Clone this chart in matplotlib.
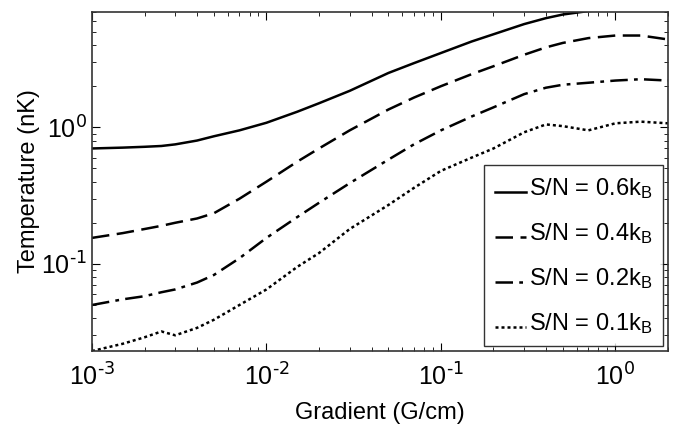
import matplotlib
matplotlib.use("Agg")
import matplotlib.pyplot as plt
from matplotlib.legend_handler import HandlerLine2D
from matplotlib.ticker import FuncFormatter
import numpy as np

plt.rcParams["font.family"] = ["Liberation Sans", "DejaVu Sans"]
plt.rcParams["mathtext.default"] = "regular"

# gradient (G/cm) sample points
grad = [1e-3, 1.5e-3, 2e-3, 2.5e-3, 3e-3, 4e-3, 5e-3, 7e-3, 1e-2, 1.5e-2, 2e-2, 3e-2,
        5e-2, 7e-2, 0.1, 0.15, 0.2, 0.3, 0.4, 0.5, 0.7, 1.0, 1.4, 2.0]

# temperature (nK) for each S/N curve
t_06 = [0.70, 0.71, 0.72, 0.73, 0.75, 0.80, 0.86, 0.95, 1.08, 1.30, 1.50, 1.85,
        2.50, 2.95, 3.50, 4.25, 4.80, 5.70, 6.30, 6.70, 7.10, 7.40, 7.60, 7.70]
t_04 = [0.155, 0.168, 0.18, 0.19, 0.20, 0.215, 0.235, 0.30, 0.40, 0.56, 0.70, 0.95,
        1.35, 1.65, 2.00, 2.45, 2.80, 3.40, 3.85, 4.15, 4.50, 4.70, 4.70, 4.40]
t_02 = [0.050, 0.055, 0.058, 0.062, 0.065, 0.073, 0.083, 0.11, 0.155, 0.22, 0.28, 0.39,
        0.58, 0.75, 0.95, 1.20, 1.40, 1.75, 1.95, 2.05, 2.12, 2.20, 2.25, 2.20]
t_01 = [0.023, 0.026, 0.029, 0.032, 0.030, 0.034, 0.039, 0.050, 0.065, 0.095, 0.12, 0.18,
        0.27, 0.36, 0.48, 0.60, 0.70, 0.92, 1.05, 1.02, 0.95, 1.07, 1.10, 1.07]

labels = ["S/N = 0.6k$_B$", "S/N = 0.4k$_B$", "S/N = 0.2k$_B$", "S/N = 0.1k$_B$"]
styles = ["-", (0, (7, 3)), (0, (7, 2.5, 1.5, 2.5)), (0, (1.2, 1.2))]


class LowHandler(HandlerLine2D):
    # legend sample sits near the text baseline, like in the original
    def create_artists(self, legend, orig_handle, xdescent, ydescent,
                       width, height, fontsize, trans):
        arts = super().create_artists(legend, orig_handle, xdescent, ydescent,
                                      width, height, fontsize, trans)
        for a in arts:
            a.set_ydata([y - 0.32 * height for y in a.get_ydata()])
        return arts


def pow10(v, pos):
    e = int(round(np.log10(v)))
    return r"$10^{\text{%d}}$" % e


fig = plt.figure(figsize=(6.84, 4.25), dpi=100)
ax = fig.add_axes([0.1345, 0.174, 0.842, 0.798])

for t, lab, ls in zip([t_06, t_04, t_02, t_01], labels, styles):
    ax.plot(grad, t, color="black", lw=1.8, ls=ls, label=lab)

ax.set_xscale("log")
ax.set_yscale("log")
ax.set_xlim(1e-3, 2.0)
ax.set_ylim(0.023, 7.0)
ax.set_xticks([1e-3, 1e-2, 1e-1, 1e0])
ax.set_yticks([1e-1, 1e0])
ax.xaxis.set_major_formatter(FuncFormatter(pow10))
ax.yaxis.set_major_formatter(FuncFormatter(pow10))
ax.tick_params(which="both", direction="in", top=True, right=True, labelsize=18)
ax.tick_params(axis="x", pad=9)
ax.tick_params(which="major", length=6)
ax.tick_params(which="minor", length=3)
for s in ax.spines.values():
    s.set_linewidth(1.2)
    s.set_color("#333333")

ax.set_xlabel("Gradient (G/cm)", fontsize=17, labelpad=8)
ax.set_ylabel("Temperature (nK)", fontsize=17)
ax.yaxis.set_label_coords(-0.09, 0.5)

leg = ax.legend(loc="lower right", fontsize=17, frameon=True, fancybox=False,
                edgecolor="black", handlelength=1.3, handletextpad=0.15,
                labelspacing=0.85, borderaxespad=0.2, borderpad=0.45,
                handler_map={plt.Line2D: LowHandler()})
leg.get_frame().set_linewidth(1.0)

fig.savefig("out.png", dpi=100)
